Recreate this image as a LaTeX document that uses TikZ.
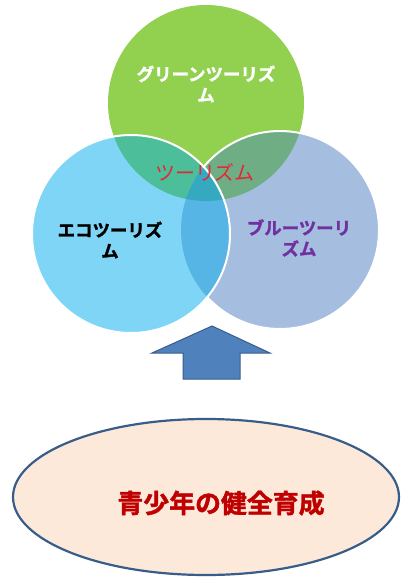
\documentclass[tikz,border=0pt]{standalone}
\usepackage{fontspec}
\newfontfamily\jp{Noto Sans CJK JP}
\newfontfamily\jpheavy{Noto Sans CJK JP Bold}[FakeBold=1.6]
\definecolor{cgreen}{RGB}{146,208,80}
\definecolor{cleft}{RGB}{127,213,246}
\definecolor{cright}{RGB}{165,189,222}
\definecolor{cgl}{RGB}{77,190,154}
\definecolor{cgr}{RGB}{111,174,133}
\definecolor{clr}{RGB}{86,181,229}
\definecolor{call}{RGB}{52,169,192}
\definecolor{arrfill}{RGB}{79,129,189}
\definecolor{arrline}{RGB}{56,93,138}
\definecolor{ellfill}{RGB}{253,233,217}
\definecolor{redtxt}{RGB}{226,40,52}
\definecolor{purpletxt}{RGB}{112,48,160}
\definecolor{darkred}{RGB}{192,0,0}
\tikzset{
  lbl/.style={font=\jpheavy\fontsize{17.5}{21}\selectfont, align=center, inner sep=0pt},
  ring/.style={draw=white, line width=2bp}
}
\begin{document}
\begin{tikzpicture}[x=1bp,y=-1bp]
\useasboundingbox (0,0) rectangle (400,577);
\def\G{(206,103) circle (98)}
\def\L{(131,234) circle (99)}
\def\R{(280,230) circle (99)}
% green
\fill[cgreen] \G;
% right
\fill[cright] \R;
\begin{scope}\clip \G; \fill[cgr] \R; \end{scope}
\draw[ring] \R;
% left
\fill[cleft] \L;
\begin{scope}\clip \L; \fill[cgl] \G; \end{scope}
\begin{scope}\clip \L; \fill[clr] \R; \end{scope}
\begin{scope}\clip \L; \clip \R; \fill[call] \G; \end{scope}
\draw[ring] \L;
% labels
\node[lbl, text=white] (green) at (206,84) {グリーンツーリズ\\ム};
\node[font=\jp\fontsize{20}{24}\selectfont, text=redtxt, inner sep=0pt] (center) at (205,172) {ツーリズム};
\node[lbl, text=black] (eco) at (110,240) {エコツーリズ\\ム};
\node[lbl, text=purpletxt] (blue) at (299,238) {ブルーツーリ\\ズム};
% block arrow
\filldraw[fill=arrfill, draw=arrline, line width=1bp]
  (212,326) -- (270,353) -- (240,353) -- (240,379) -- (183,379) -- (183,353) -- (152,353) -- cycle;
% ellipse
\filldraw[fill=ellfill, draw=arrline, line width=2.2bp] (206,497) ellipse (193 and 78);
\node[font=\jpheavy\fontsize{26}{30}\selectfont, text=darkred, inner sep=0pt] (goal) at (221,503) {青少年の健全育成};
\end{tikzpicture}
\end{document}
